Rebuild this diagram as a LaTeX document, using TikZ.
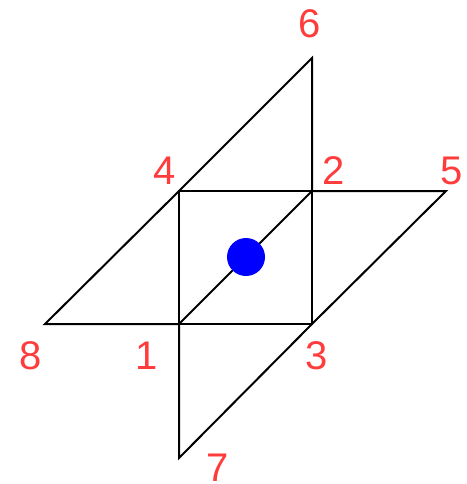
\documentclass[tikz,border=0pt]{standalone}
\usepackage{fontspec}
\setmainfont{Liberation Sans}
\begin{document}
\begin{tikzpicture}[x=1pt,y=-1pt,
  edge/.style={black,line width=2pt,line join=miter},
  lbl/.style={text=labelred,font=\fontsize{40}{40}\selectfont,inner sep=0pt,anchor=center}]
\definecolor{labelred}{RGB}{255,60,60}
\useasboundingbox (0,0) rectangle (466,484);
\coordinate (n1) at (179,324);
\coordinate (n2) at (312,191);
\coordinate (n3) at (312,324);
\coordinate (n4) at (179,191);
\coordinate (n5) at (446,191);
\coordinate (n6) at (312,58);
\coordinate (n7) at (179,458);
\coordinate (n8) at (45,324);
\draw[edge] (n4) -- (n2) -- (n3) -- (n1) -- cycle;
\draw[edge] (n1) -- (n2);
\draw[edge] (n4) -- (n6) -- (n2);
\draw[edge] (n2) -- (n5) -- (n3);
\draw[edge] (n3) -- (n7) -- (n1);
\draw[edge] (n1) -- (n8) -- (n4);
\fill[blue] (246,257) circle (19) coordinate (dot);
\node[lbl] (l6) at (310,24) {6};
\node[lbl] (l4) at (165,171) {4};
\node[lbl] (l2) at (334,171) {2};
\node[lbl] (l5) at (452,171) {5};
\node[lbl] (l8) at (31,356) {8};
\node[lbl] (l1) at (147,356) {1};
\node[lbl] (l3) at (317,356) {3};
\node[lbl] (l7) at (218,468) {7};
\end{tikzpicture}
\end{document}
